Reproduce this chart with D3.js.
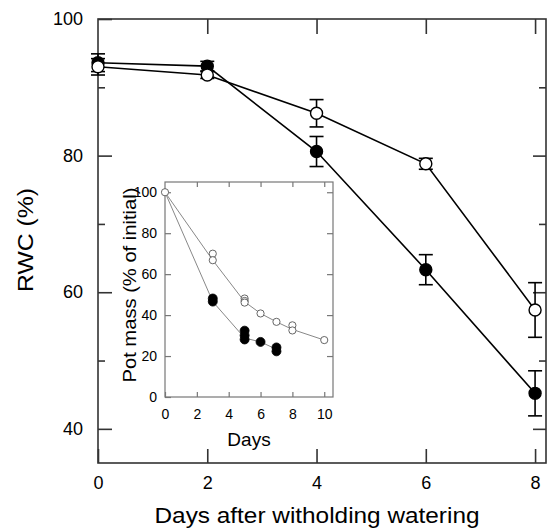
<!DOCTYPE html>
<html>
<head>
<meta charset="utf-8">
<script src="https://cdn.jsdelivr.net/npm/d3@7"></script>
<style>
  html, body { margin: 0; padding: 0; background: #fff; }
  svg { display: block; font-family: "Liberation Sans", Arial, sans-serif; }
</style>
</head>
<body>
<svg id="chart" width="547" height="528"></svg>
<script>
// ---- Main chart data (RWC %) ----
const days = [0, 2, 4, 6, 8];
const rwcFilled = [93.6, 93.1, 80.6, 63.3, 45.2];
const errFilled = [1.3, 0.7, 2.2, 2.2, 3.3];
const rwcOpen = [93.0, 91.8, 86.2, 78.8, 57.4];
const errOpen = [1.2, 0.5, 2.0, 0.8, 4.0];
const mainXTicks = [0, 2, 4, 6, 8];
const mainYTicks = [40, 60, 80, 100];
const mainYMinor = [50, 70, 90];

// ---- Inset data (pot mass % of initial) ----
const insetOpenX = [0, 3, 3, 5, 5, 5, 6, 7, 8, 8, 10];
const insetOpenY = [100, 70.0, 66.8, 48.1, 46.9, 46.1, 40.8, 36.7, 35.0, 32.5, 27.8];
const insetOpenLineX = [0, 3, 5, 6, 7, 8, 10];
const insetOpenLineY = [100, 66.8, 46.5, 40.8, 36.7, 33.0, 27.8];
const insetFilledX = [3, 3, 5, 5, 5, 6, 7, 7];
const insetFilledY = [48.1, 46.6, 32.4, 30.1, 28.1, 26.9, 24.2, 22.3];
const insetFilledLineX = [0, 3, 5, 6, 7];
const insetFilledLineY = [100, 46.6, 28.8, 26.9, 23.3];
const insetXTicks = [0, 2, 4, 6, 8, 10];
const insetYTicks = [0, 20, 40, 60, 80, 100];

const svg = d3.select("#chart");

// ---------- Main chart ----------
const L = 98, R = 546, T = 19, B = 463;
const x = d3.scaleLinear().domain([0, 8.2]).range([L, R]);
const y = d3.scaleLinear().domain([35, 100]).range([B, T]);
const axisColor = "#333";

// frame
svg.append("rect").attr("x", L).attr("y", T).attr("width", R - L).attr("height", B - T)
  .attr("fill", "none").attr("stroke", axisColor).attr("stroke-width", 1.6);

// ticks via axes (inward)
const gx = svg.append("g").attr("transform", `translate(0,${B})`)
  .call(d3.axisBottom(x).tickValues(mainXTicks).tickSize(-14).tickPadding(13).tickFormat(d3.format("d")));
const gxTop = svg.append("g").attr("transform", `translate(0,${T})`)
  .call(d3.axisTop(x).tickValues(mainXTicks.filter(d => d > 0)).tickSize(-15).tickFormat(""));
const gy = svg.append("g").attr("transform", `translate(${L},0)`)
  .call(d3.axisLeft(y).tickValues(mainYTicks).tickSize(-14).tickPadding(15).tickFormat(d3.format("d")));
const gyMinor = svg.append("g").attr("transform", `translate(${L},0)`)
  .call(d3.axisLeft(y).tickValues(mainYMinor).tickSize(-7).tickFormat(""));
const gyR = svg.append("g").attr("transform", `translate(${R},0)`)
  .call(d3.axisRight(y).tickValues(mainYTicks.filter(d => d < 100)).tickSize(-13).tickFormat(""));
const gyRMinor = svg.append("g").attr("transform", `translate(${R},0)`)
  .call(d3.axisRight(y).tickValues(mainYMinor).tickSize(-7).tickFormat(""));
[gx, gxTop, gy, gyMinor, gyR, gyRMinor].forEach(g => {
  g.select(".domain").remove();
  g.selectAll(".tick line").attr("stroke", axisColor).attr("stroke-width", 1.6);
  g.selectAll(".tick text").attr("fill", "#000").attr("font-size", 18)
    .attr("font-family", "Liberation Sans, Arial, sans-serif");
});

// axis titles
svg.append("text").attr("x", 317).attr("y", 523).attr("text-anchor", "middle")
  .attr("font-size", 22).attr("textLength", 325).attr("lengthAdjust", "spacingAndGlyphs")
  .text("Days after witholding watering");
svg.append("text").attr("transform", `translate(33,240) rotate(-90)`).attr("text-anchor", "middle")
  .attr("font-size", 22).attr("textLength", 104).attr("lengthAdjust", "spacingAndGlyphs")
  .text("RWC (%)");

// ---------- Inset ----------
const iL = 165, iR = 333, iT = 182, iB = 397;
const ix = d3.scaleLinear().domain([0, 10.55]).range([iL, iR]);
const iy = d3.scaleLinear().domain([0, 105]).range([iB, iT]);
const insetColor = "#777";
svg.append("rect").attr("x", iL).attr("y", iT).attr("width", iR - iL).attr("height", iB - iT)
  .attr("fill", "#fff").attr("stroke", insetColor).attr("stroke-width", 1.2);

const ig = [
  svg.append("g").attr("transform", `translate(0,${iB})`)
    .call(d3.axisBottom(ix).tickValues(insetXTicks).tickSize(-5).tickPadding(12).tickFormat(d3.format("d"))),
  svg.append("g").attr("transform", `translate(0,${iT})`)
    .call(d3.axisTop(ix).tickValues(insetXTicks.filter(d => d > 0)).tickSize(-5).tickFormat("")),
  svg.append("g").attr("transform", `translate(${iL},0)`)
    .call(d3.axisLeft(iy).tickValues(insetYTicks).tickSize(-6).tickPadding(8).tickFormat(d3.format("d"))),
  svg.append("g").attr("transform", `translate(${iR},0)`)
    .call(d3.axisRight(iy).tickValues(insetYTicks.filter(d => d > 0)).tickSize(-6).tickFormat(""))
];
ig.forEach(g => {
  g.select(".domain").remove();
  g.selectAll(".tick line").attr("stroke", insetColor).attr("stroke-width", 1.2);
  g.selectAll(".tick text").attr("fill", "#000").attr("font-size", 14)
    .attr("font-family", "Liberation Sans, Arial, sans-serif");
});

svg.append("text").attr("x", 249).attr("y", 446).attr("text-anchor", "middle")
  .attr("font-size", 19).text("Days");
svg.append("text").attr("transform", `translate(136,285) rotate(-90)`).attr("text-anchor", "middle")
  .attr("font-size", 19).attr("textLength", 195).attr("lengthAdjust", "spacingAndGlyphs")
  .text("Pot mass (% of initial)");

const iline = d3.line().x(d => ix(d[0])).y(d => iy(d[1]));
svg.append("path").datum(d3.zip(insetOpenLineX, insetOpenLineY)).attr("d", iline)
  .attr("fill", "none").attr("stroke", "#888").attr("stroke-width", 1);
svg.append("path").datum(d3.zip(insetFilledLineX, insetFilledLineY)).attr("d", iline)
  .attr("fill", "none").attr("stroke", "#888").attr("stroke-width", 1);
svg.append("g").selectAll("circle").data(d3.zip(insetOpenX, insetOpenY)).join("circle")
  .attr("cx", d => ix(d[0])).attr("cy", d => iy(d[1])).attr("r", 3.6)
  .attr("fill", "#fff").attr("stroke", "#666").attr("stroke-width", 1);
svg.append("g").selectAll("circle").data(d3.zip(insetFilledX, insetFilledY)).join("circle")
  .attr("cx", d => ix(d[0])).attr("cy", d => iy(d[1])).attr("r", 4.5)
  .attr("fill", "#000").attr("stroke", "#000").attr("stroke-width", 0.8);

// ---------- Main series ----------
const line = d3.line().x(d => x(d[0])).y(d => y(d[1]));
function drawSeries(vals, errs, fill) {
  const pts = days.map((d, i) => [d, vals[i], errs[i]]);
  const g = svg.append("g");
  g.append("path").datum(pts).attr("d", line).attr("fill", "none")
    .attr("stroke", "#000").attr("stroke-width", 1.6);
  const eb = g.selectAll(".eb").data(pts).join("g");
  eb.append("line").attr("x1", d => x(d[0])).attr("x2", d => x(d[0]))
    .attr("y1", d => y(d[1] + d[2])).attr("y2", d => y(d[1] - d[2]))
    .attr("stroke", "#000").attr("stroke-width", 1.6);
  [1, -1].forEach(s => {
    eb.append("line").attr("x1", d => x(d[0]) - 7).attr("x2", d => x(d[0]) + 7)
      .attr("y1", d => y(d[1] + s * d[2])).attr("y2", d => y(d[1] + s * d[2]))
      .attr("stroke", "#000").attr("stroke-width", 1.6);
  });
  g.selectAll("circle").data(pts).join("circle")
    .attr("cx", d => x(d[0])).attr("cy", d => y(d[1])).attr("r", 6)
    .attr("fill", fill).attr("stroke", "#000").attr("stroke-width", 1.4);
}
drawSeries(rwcFilled, errFilled, "#000");
drawSeries(rwcOpen, errOpen, "#fff");
</script>
</body>
</html>
